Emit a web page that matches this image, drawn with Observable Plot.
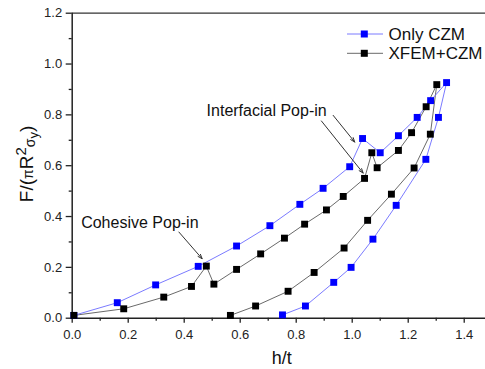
<!DOCTYPE html>
<html>
<head>
<meta charset="utf-8">
<script src="https://cdn.jsdelivr.net/npm/d3@7"></script>
<script src="https://cdn.jsdelivr.net/npm/@observablehq/plot@0.6"></script>
<style>
  html, body { margin: 0; padding: 0; background: #fff; }
  #chart svg { display: block; }
</style>
</head>
<body>
<div id="chart"></div>
<script>
// ---- data ----
const seriesNames = ["Only CZM", "XFEM+CZM"];

const czmX = [0.006, 0.161, 0.298, 0.450, 0.587, 0.706, 0.813, 0.896, 0.991, 1.037, 1.100, 1.165, 1.232, 1.280, 1.337, 1.308, 1.263, 1.157, 1.074, 0.996, 0.934, 0.833, 0.751];
const czmY = [0.011, 0.061, 0.131, 0.204, 0.284, 0.364, 0.448, 0.511, 0.596, 0.707, 0.651, 0.718, 0.790, 0.856, 0.927, 0.790, 0.625, 0.444, 0.311, 0.200, 0.141, 0.048, 0.013];

const xfemX = [0.006, 0.184, 0.327, 0.426, 0.479, 0.506, 0.587, 0.673, 0.758, 0.830, 0.908, 0.968, 1.044, 1.070, 1.089, 1.165, 1.212, 1.264, 1.302, 1.279, 1.221, 1.140, 1.055, 0.971, 0.864, 0.771, 0.655, 0.565];
const xfemY = [0.011, 0.037, 0.083, 0.125, 0.205, 0.134, 0.192, 0.253, 0.315, 0.370, 0.426, 0.479, 0.550, 0.651, 0.592, 0.660, 0.730, 0.832, 0.919, 0.724, 0.591, 0.488, 0.385, 0.276, 0.180, 0.106, 0.048, 0.011];

const xTickLabels = [0.0, 0.2, 0.4, 0.6, 0.8, 1.0, 1.2, 1.4];
const xMinorTicks = [0.1, 0.3, 0.5, 0.7, 0.9, 1.1, 1.3];
const yTickLabels = [0.0, 0.2, 0.4, 0.6, 0.8, 1.0, 1.2];
const yMinorTicks = [0.1, 0.3, 0.5, 0.7, 0.9, 1.1];

const annotationTexts = ["Cohesive Pop-in", "Interfacial Pop-in"];
const annotationX = [0.032, 0.480];
const annotationY = [0.374, 0.815];

const arrowX1 = [0.381, 0.932, 0.890];
const arrowY1 = [0.339, 0.798, 0.776];
const arrowX2 = [0.464, 1.009, 1.039];
const arrowY2 = [0.234, 0.693, 0.571];

// ---- build tables ----
const czm = czmX.map((x, i) => ({x, y: czmY[i]}));
const xfem = xfemX.map((x, i) => ({x, y: xfemY[i]}));
const notes = annotationTexts.map((t, i) => ({t, x: annotationX[i], y: annotationY[i]}));
const arrows = arrowX1.map((x1, i) => ({x1, y1: arrowY1[i], x2: arrowX2[i], y2: arrowY2[i]}));

const FONT = "Arial, 'Liberation Sans', sans-serif";
const BLUE = "#0000ff";
const BLUE_LINE = "#7b7bff";
const BLACK_LINE = "#6a6a6a";
const sq = 3.9; // r for square symbol (side ≈ 7px)

const chart = Plot.plot({
  width: 485,
  height: 369,
  marginLeft: 71.7,
  marginRight: 0,
  marginTop: 12.7,
  marginBottom: 51.3,
  x: {domain: [0, 1.476]},
  y: {domain: [0, 1.2]},
  style: {fontFamily: FONT, fontSize: "13px", color: "#222", background: "#fff", overflow: "visible"},
  marks: [
    Plot.axisX(xTickLabels, {tickSize: 5, tickPadding: 7, tickFormat: d3.format(".1f"), label: null, stroke: "#222", strokeWidth: 1.3, fill: "#222"}),
    Plot.axisX(xMinorTicks, {tickSize: 3, tickFormat: () => "", label: null, stroke: "#222", strokeWidth: 1.3}),
    Plot.axisY(yTickLabels, {tickSize: 6, tickPadding: 4, tickFormat: d3.format(".1f"), label: null, stroke: "#222", strokeWidth: 1.3, fill: "#222"}),
    Plot.axisY(yMinorTicks, {tickSize: 3, tickFormat: () => "", label: null, stroke: "#222", strokeWidth: 1.3}),
    Plot.ruleY([0], {stroke: "#222", strokeWidth: 1.5}),
    Plot.ruleY([1.2], {stroke: "#333", strokeWidth: 1.3}),
    Plot.ruleX([0], {stroke: "#222", strokeWidth: 1.5}),
    Plot.line(xfem, {x: "x", y: "y", stroke: BLACK_LINE, strokeWidth: 1}),
    Plot.line(czm, {x: "x", y: "y", stroke: BLUE_LINE, strokeWidth: 1}),
    Plot.dot(czm, {x: "x", y: "y", symbol: "square", r: sq, fill: BLUE, stroke: null}),
    Plot.dot(xfem, {x: "x", y: "y", symbol: "square", r: sq, fill: "#000", stroke: null}),
    Plot.text(notes, {x: "x", y: "y", text: "t", textAnchor: "start", fontSize: 16, fill: "#111", fontFamily: FONT}),
    Plot.arrow(arrows, {x1: "x1", y1: "y1", x2: "x2", y2: "y2", stroke: "#333", strokeWidth: 1, headLength: 7, headAngle: 40})
  ]
});

const svg = d3.select(chart);

// y-axis label with mixed sizes
const yl = svg.append("text")
  .attr("transform", "translate(33,164) rotate(-90)")
  .attr("text-anchor", "middle")
  .attr("font-family", FONT)
  .attr("font-size", 19)
  .attr("fill", "#111");
yl.append("tspan").text("F/(");
yl.append("tspan").attr("font-size", 14).text("π");
yl.append("tspan").text("R");
yl.append("tspan").attr("font-size", 15).attr("dy", -7).text("2");
yl.append("tspan").attr("font-size", 14).attr("dy", 9).text("σ");
yl.append("tspan").attr("font-size", 13).attr("dy", 3).text("y");
yl.append("tspan").attr("dy", -5).text(")");

// x-axis label
svg.append("text")
  .attr("x", 281.7).attr("y", 364)
  .attr("text-anchor", "middle")
  .attr("font-family", FONT)
  .attr("font-size", 18)
  .attr("fill", "#111")
  .text("h/t");

// legend
const legendRows = [
  {name: seriesNames[0], line: BLUE_LINE, fill: BLUE, y: 34},
  {name: seriesNames[1], line: BLACK_LINE, fill: "#000", y: 53.3}
];
const lg = svg.append("g");
legendRows.forEach(r => {
  lg.append("line").attr("x1", 347).attr("x2", 383).attr("y1", r.y).attr("y2", r.y).attr("stroke", r.line).attr("stroke-width", 1);
  lg.append("rect").attr("x", 364.3 - 3.5).attr("y", r.y - 3.5).attr("width", 7).attr("height", 7).attr("fill", r.fill);
  lg.append("text").attr("x", 388.5).attr("y", r.y).attr("dy", "0.36em").attr("text-anchor", "start").attr("font-family", FONT).attr("font-size", 17).attr("fill", "#111").text(r.name);
});

document.getElementById("chart").appendChild(chart);
</script>
</body>
</html>
